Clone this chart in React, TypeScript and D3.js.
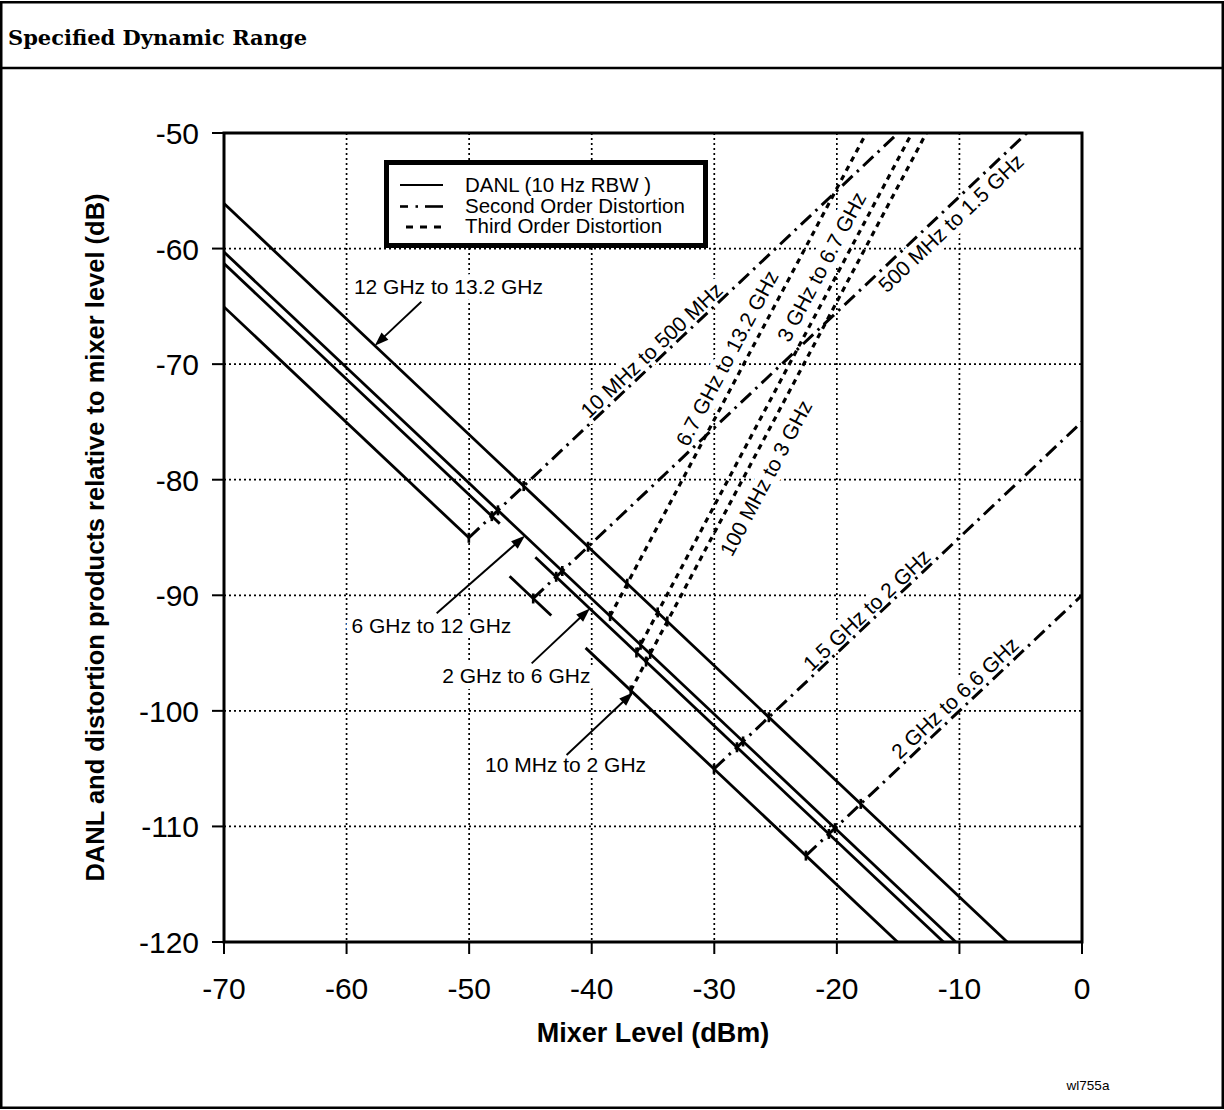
import React from 'react';
import * as d3 from 'd3';

// ---- axis ticks ----
const xTicks = [-70, -60, -50, -40, -30, -20, -10, 0];
const yTicks = [-50, -60, -70, -80, -90, -100, -110, -120];

// ---- DANL lines: value = level@-70dBm - (mixer + 70) ----
const danlBands = ['12 GHz to 13.2 GHz', '6 GHz to 12 GHz', '2 GHz to 6 GHz', '10 MHz to 2 GHz'];
const danlAtMinus70 = [-56.1, -60.3, -61.3, -65.05];
const danlSegments = [
  [[-70, 0]],
  [[-70, 0]],
  [[-70, -47.5], [-44.6, 0]],
  [[-70, -50], [-46.7, -43.3], [-40.5, 0]],
];
const danlLabelX = [-59.4, -59.6, -52.2, -48.7];
const danlLabelY = [-63.9, -93.3, -97.6, -105.3];
const danlArrowTailX = [-53.9, -52.65, -44.9, -42.05];
const danlArrowTailY = [-64.6, -91.56, -95.89, -103.82];
const danlArrowHeadX = [-57.7, -45.45, -40.15, -36.64];

// ---- Second order distortion: value = mixer + offset ----
const soBands = ['10 MHz to 500 MHz', '500 MHz to 1.5 GHz', '1.5 GHz to 2 GHz', '2 GHz to 6.6 GHz'];
const soOffset = [-35, -45.5, -75, -90];
const soStart = [-50, -44.75, -30, -22.5];
const soLabelX = [-35.13, -10.7, -17.58, -10.38];
const soLabelY = [-68.78, -57.79, -91.27, -98.89];

// ---- Third order distortion: value = 2*mixer + offset ----
const toBands = ['6.7 GHz to 13.2 GHz', '3 GHz to 6.7 GHz', '100 MHz to 3 GHz'];
const toOffset = [-14.8, -22.25, -24.6];
const toStart = [-38.5, -36.35, -36.82];
const toLabelX = [-28.97, -21.25, -25.79];
const toLabelY = [-69.47, -61.57, -79.85];

const legendLabels = ['DANL (10 Hz RBW )', 'Second Order Distortion', 'Third Order Distortion'];

const SANS = "'Liberation Sans', Arial, Helvetica, sans-serif";
const SERIF = "'DejaVu Serif', 'Liberation Serif', serif";

export default function App() {
  const W = 1224;
  const H = 1110;
  const x = d3.scaleLinear().domain([-70, 0]).range([224, 1082]);
  const y = d3.scaleLinear().domain([-120, -50]).range([942, 133]);
  const left = x(-70), right = x(0), top = y(-50), bottom = y(-120);
  const line = d3.line<[number, number]>().x((d) => x(d[0])).y((d) => y(d[1]));

  const danlVal = (i: number, m: number) => danlAtMinus70[i] - (m + 70);
  const pxSlope = (k: number) => (k * (y(-60) - y(-50))) / (x(-60) - x(-70));
  const angleFor = (k: number) => (-Math.atan(pxSlope(k)) * 180) / Math.PI;

  const distLines: { k: number; o: number; s: number; kind: 'so' | 'to' }[] = [
    ...soOffset.map((o, i) => ({ k: 1, o, s: soStart[i], kind: 'so' as const })),
    ...toOffset.map((o, i) => ({ k: 2, o, s: toStart[i], kind: 'to' as const })),
  ];

  // crossing marks where distortion lines meet DANL lines
  const ticks: [number, number][] = [];
  distLines.forEach((dl) => {
    danlAtMinus70.forEach((a, i) => {
      const xi = (a - 70 - dl.o) / (dl.k + 1);
      if (xi < dl.s - 0.3) return;
      const inSeg = danlSegments[i].some((sg) => xi >= sg[0] - 0.05 && xi <= sg[1] + 0.05);
      const yi = dl.k * xi + dl.o;
      if (inSeg && yi <= -50 && yi >= -120) ticks.push([xi, yi]);
    });
  });

  const clipId = 'plotClip';

  const arrow = (i: number) => {
    const tx = x(danlArrowTailX[i]), ty = y(danlArrowTailY[i]);
    const hx = x(danlArrowHeadX[i]), hy = y(danlVal(i, danlArrowHeadX[i]));
    const dx = hx - tx, dy = hy - ty;
    const len = Math.hypot(dx, dy);
    const ux = dx / len, uy = dy / len;
    const hl = 14, hw = 5;
    const bx = hx - ux * hl, by = hy - uy * hl;
    const pts = [
      [hx, hy],
      [bx - uy * hw, by + ux * hw],
      [bx + uy * hw, by - ux * hw],
    ];
    return (
      <g key={'arr' + i}>
        <line x1={tx} y1={ty} x2={bx + ux * 2} y2={by + uy * 2} stroke="#000" strokeWidth={1.9} />
        <polygon points={pts.map((p) => p.join(',')).join(' ')} fill="#000" />
      </g>
    );
  };

  const labelFont = 21;

  const horizLabels = danlBands.map((t, i) => ({
    t,
    x: x(danlLabelX[i]),
    y: y(danlLabelY[i]),
  }));
  const rotLabels = [
    ...soBands.map((t, i) => ({ t, x: x(soLabelX[i]), y: y(soLabelY[i]), a: angleFor(1) })),
    ...toBands.map((t, i) => ({ t, x: x(toLabelX[i]), y: y(toLabelY[i]), a: angleFor(2) })),
  ];

  const renderLabels = (halo: boolean) => (
    <g
      fontFamily={SANS}
      fontSize={labelFont}
      fill={halo ? '#fff' : '#000'}
      stroke={halo ? '#fff' : 'none'}
      strokeWidth={halo ? 12 : 0}
      strokeLinejoin="round"
    >
      {horizLabels.map((l, i) => (
        <text key={'h' + i} x={l.x} y={l.y}>
          {l.t}
        </text>
      ))}
      {rotLabels.map((l, i) => (
        <text
          key={'r' + i}
          transform={`translate(${l.x},${l.y}) rotate(${l.a})`}
          textAnchor="middle"
          dominantBaseline="central"
        >
          {l.t}
        </text>
      ))}
    </g>
  );

  return (
    <svg
      width={W}
      height={H}
      style={{ position: 'absolute', left: 0, top: 0, background: '#fff' }}
    >
      <defs>
        <clipPath id={clipId}>
          <rect x={left} y={top} width={right - left} height={bottom - top} />
        </clipPath>
      </defs>
      <rect x={0} y={0} width={W} height={H} fill="#fff" />
      {/* outer frame and title */}
      <rect x={1.25} y={2.25} width={W - 2.5} height={H - 4.5} fill="none" stroke="#000" strokeWidth={2.5} />
      <line x1={0} x2={W} y1={68} y2={68} stroke="#000" strokeWidth={2.5} />
      <text x={8} y={45} fontFamily={SERIF} fontWeight="bold" fontSize={21} fill="#000">
        Specified Dynamic Range
      </text>

      {/* grid */}
      <g stroke="#000" strokeWidth={1.7} strokeDasharray="2 3">
        {xTicks
          .filter((t) => t !== -70 && t !== 0)
          .map((t) => (
            <line key={'gx' + t} x1={x(t)} x2={x(t)} y1={top} y2={bottom} />
          ))}
        {yTicks
          .filter((t) => t !== -50 && t !== -120)
          .map((t) => (
            <line key={'gy' + t} x1={left} x2={right} y1={y(t)} y2={y(t)} />
          ))}
      </g>

      {/* label knockouts */}
      {renderLabels(true)}

      {/* data lines */}
      <g clipPath={`url(#${clipId})`} fill="none" stroke="#000">
        {danlSegments.map((segs, i) =>
          segs.map((sg, j) => (
            <path
              key={`d${i}-${j}`}
              d={line([
                [sg[0], danlVal(i, sg[0])],
                [sg[1], danlVal(i, sg[1])],
              ]) as string}
              strokeWidth={2.8}
            />
          ))
        )}
        {distLines.map((dl, i) => (
          <path
            key={'dist' + i}
            d={line([
              [dl.s, dl.k * dl.s + dl.o],
              [0, dl.o],
            ]) as string}
            strokeWidth={dl.kind === 'so' ? 3 : 3.2}
            strokeDasharray={dl.kind === 'so' ? '14 6 2.5 6' : '5.5 5'}
          />
        ))}
        {ticks.map((p, i) => (
          <line
            key={'tk' + i}
            x1={x(p[0])}
            x2={x(p[0])}
            y1={y(p[1]) - 5}
            y2={y(p[1]) + 5}
            strokeWidth={2.6}
          />
        ))}
      </g>

      {/* labels and arrows */}
      {renderLabels(false)}
      {danlBands.map((_, i) => arrow(i))}

      {/* legend */}
      <g>
        <rect x={386.5} y={162.5} width={319} height={83} fill="#fff" stroke="#000" strokeWidth={5} />
        <line x1={400} x2={443} y1={185} y2={185} stroke="#000" strokeWidth={1.8} />
        <line x1={400} x2={408} y1={206.5} y2={206.5} stroke="#000" strokeWidth={2.6} />
        <line x1={415.5} x2={418} y1={206.5} y2={206.5} stroke="#000" strokeWidth={2.6} />
        <line x1={425} x2={443} y1={206.5} y2={206.5} stroke="#000" strokeWidth={2.6} />
        <line x1={406} x2={443} y1={227} y2={227} stroke="#000" strokeWidth={2.8} strokeDasharray="7 7" />
        <g fontFamily={SANS} fontSize={20.5} fill="#000">
          {legendLabels.map((t, i) => (
            <text key={'lg' + i} x={465} y={192 + i * 20.6}>
              {t}
            </text>
          ))}
        </g>
      </g>

      {/* axes frame */}
      <rect x={left} y={top} width={right - left} height={bottom - top} fill="none" stroke="#000" strokeWidth={3} />
      <g stroke="#000" strokeWidth={2}>
        {xTicks.map((t) => (
          <line key={'xt' + t} x1={x(t)} x2={x(t)} y1={bottom} y2={bottom + 12} />
        ))}
        {yTicks.map((t) => (
          <line key={'yt' + t} x1={left - 12} x2={left} y1={y(t)} y2={y(t)} />
        ))}
      </g>
      <g fontFamily={SANS} fontSize={30} fill="#000">
        {xTicks.map((t) => (
          <text key={'xl' + t} x={x(t)} y={999} textAnchor="middle">
            {t}
          </text>
        ))}
        {yTicks.map((t) => (
          <text key={'yl' + t} x={199} y={y(t) + 11} textAnchor="end">
            {t}
          </text>
        ))}
      </g>
      <text
        x={(left + right) / 2}
        y={1042}
        textAnchor="middle"
        fontFamily={SANS}
        fontWeight="bold"
        fontSize={27}
        fill="#000"
      >
        Mixer Level (dBm)
      </text>
      <text
        transform={`translate(104,${(top + bottom) / 2}) rotate(-90)`}
        textAnchor="middle"
        fontFamily={SANS}
        fontWeight="bold"
        fontSize={25.5}
        fill="#000"
      >
        DANL and distortion products relative to mixer level (dB)
      </text>
      <text x={1088} y={1090} textAnchor="middle" fontFamily={SANS} fontSize={13.5} fill="#000">
        wl755a
      </text>
    </svg>
  );
}
